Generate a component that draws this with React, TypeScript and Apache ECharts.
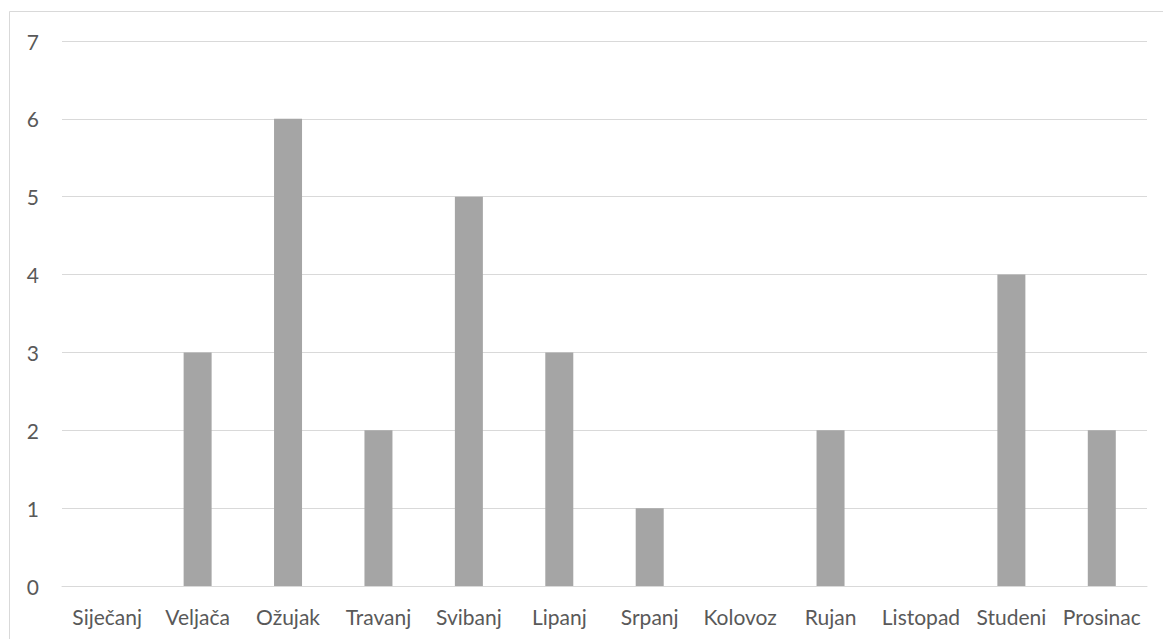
import React, { useEffect, useRef } from "react";
import * as echarts from "echarts";

const categories = ["Siječanj", "Veljača", "Ožujak", "Travanj", "Svibanj", "Lipanj", "Srpanj", "Kolovoz", "Rujan", "Listopad", "Studeni", "Prosinac"];
const values = [0, 3, 6, 2, 5, 3, 1, 0, 2, 0, 4, 2];
const yTicks = [0, 1, 2, 3, 4, 5, 6, 7];

export default function App() {
  const ref = useRef<HTMLDivElement>(null);
  useEffect(() => {
    if (!ref.current) return;
    const chart = echarts.init(ref.current, null, { renderer: "svg" });
    chart.setOption({
      animation: false,
      backgroundColor: "#ffffff",
      textStyle: { fontFamily: "Lato" },
      graphic: [
        {
          type: "rect",
          shape: { x: 9.5, y: 11.5, width: 1170, height: 650 },
          style: { fill: "none", stroke: "#d9d9d9", lineWidth: 1 },
          silent: true,
        },
      ],
      grid: { left: 62, right: 16, top: 41, bottom: 53, containLabel: false },
      xAxis: {
        type: "category",
        data: categories,
        axisLine: { show: true, lineStyle: { color: "#d9d9d9", width: 1 } },
        axisTick: { show: false },
        axisLabel: { color: "#595959", fontSize: 21, margin: 20, interval: 0, fontFamily: "Lato" },
      },
      yAxis: {
        type: "value",
        min: yTicks[0],
        max: yTicks[yTicks.length - 1],
        interval: 1,
        axisLine: { show: false },
        axisTick: { show: false },
        splitLine: { lineStyle: { color: "#d9d9d9", width: 1 } },
        axisLabel: { color: "#595959", fontSize: 21, margin: 23, fontFamily: "Lato" },
      },
      series: [
        {
          type: "bar",
          data: values,
          barWidth: 28,
          itemStyle: { color: "#a5a5a5" },
        },
      ],
    });
    return () => chart.dispose();
  }, []);
  return (
    <div
      ref={ref}
      style={{ position: "absolute", left: 0, top: 0, width: 1163, height: 639 }}
    />
  );
}
